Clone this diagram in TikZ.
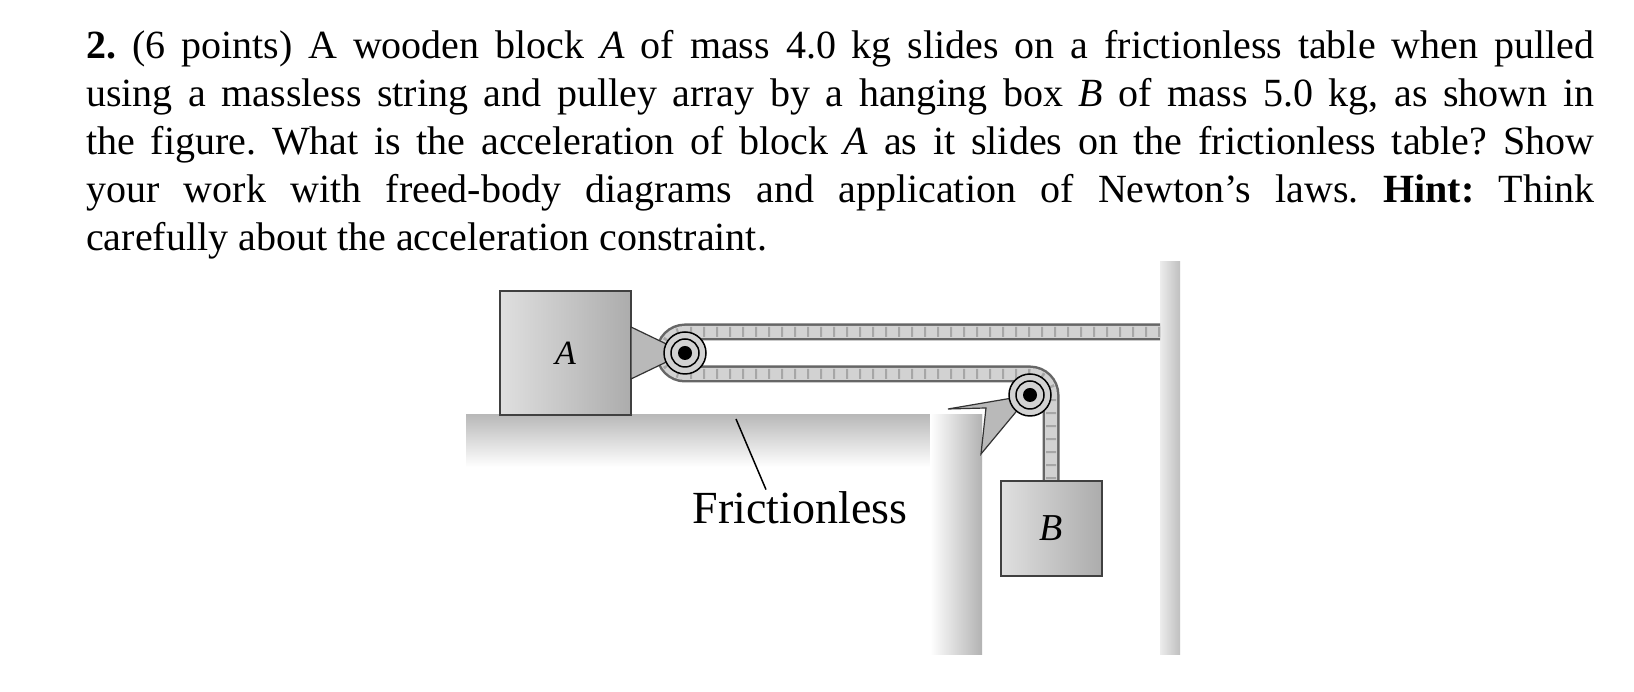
\documentclass[tikz,border=0pt]{standalone}
\usepackage{fontspec}
\setmainfont{Liberation Serif}
\frenchspacing
\begin{document}
\begin{tikzpicture}[x=1pt,y=1pt,
  txt/.style={anchor=base west,inner sep=0pt,font=\fontsize{40}{46}\selectfont},
  blockbox/.style={draw=black!75,line width=2pt,left color=gray!25,right color=gray!65},
  pulleyst/.style={draw=black,line width=1.5pt,fill=gray!35},
  brack/.style={draw=black!80,line width=1.2pt,fill=gray!55},
  ropeA/.style={line width=17pt,draw=gray!80!black},
  ropeB/.style={line width=12pt,draw=gray!35},
  ropeC/.style={line width=10pt,draw=gray!70,dash pattern=on 2pt off 11pt}]
\useasboundingbox (0,0) rectangle (1634,692);
\fill[white] (0,0) rectangle (1634,692);
% text
\node[txt] (l1) at (86,633) {\makebox[1508pt][s]{\textbf{2.} (6 points) A wooden block \textit{A} of mass 4.0 kg slides on a frictionless table when pulled}};
\node[txt] (l2) at (86,585) {\makebox[1508pt][s]{using a massless string and pulley array by a hanging box \textit{B} of mass 5.0 kg, as shown in}};
\node[txt] (l3) at (86,537) {\makebox[1508pt][s]{the figure. What is the acceleration of block \textit{A} as it slides on the frictionless table? Show}};
\node[txt] (l4) at (86,489) {\makebox[1508pt][s]{your work with freed-body diagrams and application of Newton's laws. \textbf{Hint:} Think}};
\node[txt] (l5) at (86,441) {carefully about the acceleration constraint.};
% table
\shade[top color=gray!55,bottom color=white] (466,225) rectangle (982,277);
\shade[left color=white,right color=gray!60] (930,37) rectangle (982,277);
% wall
\shade[left color=gray!15,right color=gray!50] (1160,37) rectangle (1180,430);
% coordinates
\coordinate (wall) at (1160,360);
\coordinate (p1) at (685,339);
\coordinate (p2) at (1030,297);
\coordinate (btop) at (1051,211);
% rope
\foreach \s in {ropeA,ropeB,ropeC}
  \draw[\s] (wall) -- (685,360) arc[start angle=90,end angle=270,radius=21] -- (1030,318) arc[start angle=90,end angle=0,radius=21] -- (btop);
% block A
\node[blockbox,minimum width=131pt,minimum height=124pt,font=\fontsize{34}{34}\selectfont\itshape] (A) at (565.5,339) {A};
% bracket 1
\draw[brack] (631,365) -- (631,313) -- (p1) -- cycle;
\draw[pulleyst] (p1) circle[radius=21];
\draw[black,line width=1.5pt] (p1) circle[radius=14];
\fill[black] (p1) circle[radius=7];
% bracket 2
\draw[brack] (948,283) -- (986,284) -- (981,238) -- (p2) -- cycle;
\draw[pulleyst] (p2) circle[radius=21];
\draw[black,line width=1.5pt] (p2) circle[radius=14];
\fill[black] (p2) circle[radius=7];
% block B
\node[blockbox,minimum width=101pt,minimum height=95pt,font=\fontsize{38}{38}\selectfont\itshape] (B) at (1051.5,163.5) {B};
% label
\node[font=\fontsize{46}{46}\selectfont,inner sep=2pt] (fr) at (800,184) {Frictionless};
\coordinate (tab) at (736,273);
\draw[line width=1.5pt] (tab) -- (fr.north -| 766,0);
\end{tikzpicture}
\end{document}
